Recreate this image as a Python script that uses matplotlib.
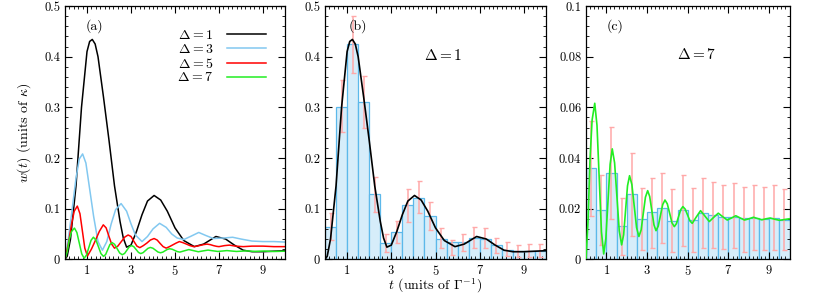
import matplotlib
matplotlib.use("Agg")
import matplotlib.pyplot as plt
from matplotlib.ticker import FixedLocator, MultipleLocator, FuncFormatter

plt.rcParams['font.family'] = 'serif'
plt.rcParams['font.serif'] = ['cmr10', 'DejaVu Serif']
plt.rcParams['mathtext.fontset'] = 'cm'
plt.rcParams['axes.formatter.use_mathtext'] = True
plt.rcParams['font.size'] = 9

# ---- curves w(t) ----
t_d1 = [0, 0.1, 0.25, 0.5, 0.75, 1.0, 1.12, 1.24, 1.37, 1.5, 1.75, 2.0, 2.25, 2.5,
        2.65, 2.8, 3.0, 3.25, 3.5, 3.75, 4.05, 4.35, 4.65, 5.0, 5.4, 5.88, 6.3,
        6.86, 7.3, 7.7, 8.1, 8.5, 9.0, 9.5, 10]
w_d1 = [0, 0.006, 0.04, 0.145, 0.30, 0.41, 0.43, 0.434, 0.425, 0.40, 0.32, 0.235,
        0.145, 0.075, 0.042, 0.024, 0.028, 0.055, 0.088, 0.115, 0.126, 0.117, 0.095,
        0.062, 0.037, 0.025, 0.03, 0.045, 0.04, 0.028, 0.018, 0.015, 0.015, 0.016, 0.017]

t_d3 = [0, 0.15, 0.3, 0.5, 0.65, 0.8, 0.95, 1.1, 1.3, 1.5, 1.7, 1.9, 2.1, 2.3, 2.55,
        2.8, 3.0, 3.2, 3.5, 3.75, 4.0, 4.3, 4.6, 4.85, 5.1, 5.4, 5.7, 6.08, 6.4,
        6.75, 7.2, 7.62, 8.0, 8.5, 9.0, 9.5, 10]
w_d3 = [0, 0.04, 0.09, 0.16, 0.198, 0.208, 0.19, 0.145, 0.085, 0.035, 0.018, 0.035,
        0.07, 0.098, 0.11, 0.095, 0.07, 0.048, 0.035, 0.045, 0.06, 0.071, 0.063,
        0.05, 0.042, 0.039, 0.045, 0.053, 0.047, 0.041, 0.042, 0.0435, 0.04, 0.036,
        0.035, 0.035, 0.034]

t_d5 = [0, 0.15, 0.3, 0.42, 0.56, 0.68, 0.79, 0.9, 1.02, 1.2, 1.38, 1.56, 1.74, 1.87,
        2.0, 2.12, 2.25, 2.4, 2.56, 2.72, 2.87, 3.0, 3.13, 3.27, 3.4, 3.56, 3.72, 3.88,
        4.05, 4.19, 4.32, 4.46, 4.6, 4.75, 4.9, 5.05, 5.2, 5.35, 5.52, 5.68, 5.85, 6.0,
        6.15, 6.3, 6.45, 6.6, 6.75, 6.9, 7.0, 7.25, 7.47, 7.75, 8.1, 8.5, 9.0, 9.5, 10]
w_d5 = [0, 0.03, 0.07, 0.095, 0.105, 0.09, 0.056, 0.022, 0.0065, 0.02, 0.037, 0.055,
        0.068, 0.062, 0.045, 0.03, 0.022, 0.026, 0.035, 0.044, 0.048, 0.045, 0.0355,
        0.026, 0.023, 0.027, 0.032, 0.038, 0.041, 0.038, 0.0315, 0.025, 0.022, 0.025,
        0.0285, 0.032, 0.035, 0.033, 0.030, 0.027, 0.025, 0.026, 0.0275, 0.029, 0.03,
        0.029, 0.027, 0.0255, 0.025, 0.027, 0.028, 0.026, 0.025, 0.026, 0.026, 0.025,
        0.025]

t_d7 = [0, 0.1, 0.2, 0.3, 0.43, 0.54, 0.65, 0.76, 0.87, 0.975, 1.08, 1.185, 1.29,
        1.405, 1.52, 1.635, 1.75, 1.85, 1.945, 2.04, 2.14, 2.255, 2.37, 2.485, 2.6,
        2.71, 2.815, 2.92, 3.03, 3.13, 3.235, 3.34, 3.44, 3.55, 3.66, 3.77, 3.88,
        3.995, 4.11, 4.225, 4.34, 4.445, 4.55, 4.655, 4.76, 4.875, 4.99, 5.105, 5.22,
        5.42, 5.63, 5.85, 6.06, 6.28, 6.5, 6.72, 6.94, 7.15, 7.36, 7.58, 7.79, 8.01,
        8.23, 8.43, 8.64, 8.85, 9.05, 9.28, 9.5, 9.75, 10]
w_d7 = [0, 0.015, 0.04, 0.055, 0.0616, 0.0529, 0.0319, 0.0108, 0.0021, 0.0082,
        0.0229, 0.0375, 0.0436, 0.0381, 0.0247, 0.0112, 0.0057, 0.0097, 0.0194, 0.029,
        0.033, 0.0295, 0.021, 0.0125, 0.009, 0.0116, 0.0181, 0.0245, 0.0271, 0.0248,
        0.0192, 0.0136, 0.0113, 0.0131, 0.0174, 0.0216, 0.0234, 0.0219, 0.0182, 0.0144,
        0.0129, 0.0141, 0.0169, 0.0196, 0.0208, 0.0198, 0.0175, 0.0152, 0.0142, 0.0167,
        0.0192, 0.017, 0.0149, 0.0166, 0.0182, 0.0168, 0.0155, 0.0163, 0.0172, 0.0163,
        0.0155, 0.016, 0.0166, 0.0161, 0.0156, 0.016, 0.0163, 0.0158, 0.0154, 0.0157,
        0.016]

# ---- histograms (bins of width 0.5 from t=0) ----
bin_left = [0.5 * i for i in range(20)]
hist_b = [0.064, 0.30, 0.425, 0.31, 0.129, 0.032, 0.053, 0.107, 0.121, 0.085,
          0.041, 0.034, 0.034, 0.042, 0.041, 0.028, 0.018, 0.016, 0.016, 0.017]
errhi_b = [0.091, 0.353, 0.481, 0.362, 0.163, 0.049, 0.076, 0.139, 0.154, 0.114,
           0.061, 0.039, 0.050, 0.063, 0.061, 0.043, 0.034, 0.028, 0.030, 0.030]
errlo_b = [0.039, 0.252, 0.368, 0.260, 0.093, 0.014, 0.032, 0.074, 0.091, 0.058,
           0.022, 0.009, 0.017, 0.022, 0.022, 0.012, 0.007, 0.005, 0.005, 0.005]

hist_c = [0.0359, 0.0193, 0.0341, 0.0132, 0.0258, 0.0159, 0.0186, 0.0201, 0.0151,
          0.0195, 0.0155, 0.0182, 0.0175, 0.0166, 0.0168, 0.0162, 0.0162, 0.016,
          0.0162, 0.0155]
errhi_c = [0.0547, 0.0332, 0.0524, 0.0243, 0.042, 0.028, 0.032, 0.034, 0.0276,
           0.0333, 0.028, 0.032, 0.0306, 0.0293, 0.030, 0.0287, 0.0293, 0.0284,
           0.0293, 0.0278]
errlo_c = [0.0171, 0.0057, 0.016, 0.0017, 0.0092, 0.0037, 0.0043, 0.0063, 0.003,
           0.0053, 0.003, 0.0043, 0.0043, 0.004, 0.0043, 0.003, 0.0037, 0.0037,
           0.0037, 0.0037]

c_black = 'black'
c_blue = '#82c8f0'
c_red = '#ff0000'
c_green = '#22ee22'
bar_face = '#d6edfa'
bar_edge = '#5cb8ea'
err_col = '#ffa8a8'

fig = plt.figure(figsize=(8.14, 2.95), dpi=100)
ax_a = fig.add_axes([65/814, 1 - 259.3/295, 220/814, 253.3/295])
ax_b = fig.add_axes([325/814, 1 - 259.3/295, 221/814, 253.3/295])
ax_c = fig.add_axes([586/814, 1 - 259.3/295, 203.5/814, 253.3/295])


def style(ax, ymax, ymajor, yminor):
    ax.set_xlim(0, 10)
    ax.set_ylim(0, ymax)
    ax.xaxis.set_major_locator(FixedLocator([1, 3, 5, 7, 9]))
    ax.xaxis.set_minor_locator(MultipleLocator(0.2))
    ax.yaxis.set_major_locator(MultipleLocator(ymajor))
    ax.yaxis.set_minor_locator(MultipleLocator(yminor))
    ax.yaxis.set_major_formatter(FuncFormatter(lambda v, p: '%g' % round(v, 4)))
    ax.tick_params(which='both', direction='in', top=True, right=True, labelsize=9)
    ax.tick_params(which='major', length=5, width=0.8)
    ax.tick_params(which='minor', length=2.5, width=0.6)
    for s in ax.spines.values():
        s.set_linewidth(0.9)


def histo(ax, h, lo, hi):
    ax.bar(bin_left, h, width=0.5, align='edge', color=bar_face,
           edgecolor=bar_edge, linewidth=0.9, zorder=1)
    centers = [b + 0.25 for b in bin_left]
    yerr = [[v - l for v, l in zip(h, lo)], [u - v for v, u in zip(h, hi)]]
    ax.errorbar(centers, h, yerr=yerr, fmt='none', ecolor=err_col,
                elinewidth=1.1, capsize=1.8, capthick=1.0, zorder=2)


# (a)
ax_a.plot(t_d1, w_d1, color=c_black, lw=1.1, label=r'$\Delta = 1$')
ax_a.plot(t_d3, w_d3, color=c_blue, lw=1.1, label=r'$\Delta = 3$')
ax_a.plot(t_d5, w_d5, color=c_red, lw=1.1, label=r'$\Delta = 5$')
ax_a.plot(t_d7, w_d7, color=c_green, lw=1.1, label=r'$\Delta = 7$')
style(ax_a, 0.5, 0.1, 0.02)
ax_a.set_ylabel(r'$w(t)$ (units of $\kappa$)', fontsize=10, labelpad=8)
ax_a.text(1.36, 0.46, '(a)', ha='center', va='center', fontsize=10)
ax_a.legend(loc='upper right', bbox_to_anchor=(0.94, 0.93), frameon=False,
            markerfirst=False, handlelength=2.8, handletextpad=1.0,
            labelspacing=0.05, fontsize=10, borderaxespad=0)

# (b)
histo(ax_b, hist_b, errlo_b, errhi_b)
ax_b.plot(t_d1, w_d1, color=c_black, lw=1.2, zorder=3)
style(ax_b, 0.5, 0.1, 0.02)
ax_b.text(1.5, 0.46, '(b)', ha='center', va='center', fontsize=10)
ax_b.text(5.35, 0.403, r'$\Delta = 1$', ha='center', va='center', fontsize=11)
ax_b.set_xlabel(r'$t$ (units of $\Gamma^{-1}$)', fontsize=10, labelpad=-1)

# (c)
histo(ax_c, hist_c, errlo_c, errhi_c)
ax_c.plot(t_d7, w_d7, color=c_green, lw=1.2, zorder=3)
style(ax_c, 0.1, 0.02, 0.004)
ax_c.text(1.43, 0.092, '(c)', ha='center', va='center', fontsize=10)
ax_c.text(5.45, 0.0807, r'$\Delta = 7$', ha='center', va='center', fontsize=11)

fig.savefig('out.png', dpi=100)
